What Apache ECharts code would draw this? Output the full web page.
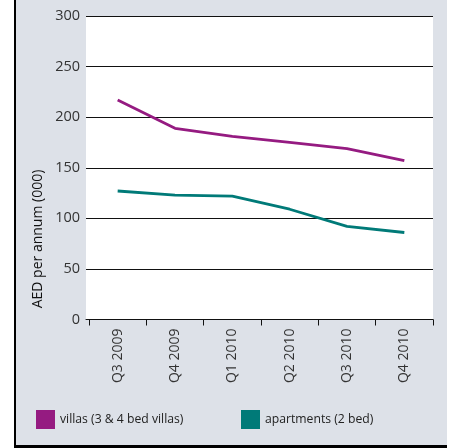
<!DOCTYPE html>
<html>
<head>
<meta charset="utf-8">
<script src="https://cdn.jsdelivr.net/npm/echarts@6/dist/echarts.min.js"></script>
<style>
  html, body { margin: 0; padding: 0; background: #ffffff; }
  #panel {
    position: absolute; left: 14px; top: 0; width: 433px; height: 448px;
    box-sizing: border-box; background: #dde1e8;
    border-left: 2px solid #000; border-bottom: 3px solid #000;
  }
  #chart { position: absolute; left: 0; top: 0; width: 451px; height: 448px; }
</style>
</head>
<body>
<div id="panel"></div>
<div id="chart"></div>
<script>
// Quarterly rents, AED per annum (thousands)
const quarters = ['Q3 2009', 'Q4 2009', 'Q1 2010', 'Q2 2010', 'Q3 2010', 'Q4 2010'];
const villas = [217, 189, 181, 175, 169, 157];
const apartments = [127, 123, 122, 109, 92, 86];
const villasName = 'villas (3 & 4 bed villas)';
const apartmentsName = 'apartments (2 bed)';
const yTicks = { min: 0, max: 300, interval: 50 };
const axisTitle = 'AED per annum (000)';

const FONT = 'Open Sans';
const PURPLE = '#951b81';
const TEAL = '#007a78';

const chart = echarts.init(document.getElementById('chart'), null, { renderer: 'canvas' });

chart.setOption({
  backgroundColor: 'transparent',
  animation: false,
  textStyle: { fontFamily: FONT },
  grid: [
    // data grid: category bands and the lines
    { left: 89, right: 18, top: 16, bottom: 128.5 },
    // frame grid: white plot area, gridlines, value labels, base line
    { left: 86, right: 18, top: 16, bottom: 128.5, show: true, backgroundColor: '#ffffff', borderWidth: 0, z: -1 }
  ],
  xAxis: [
    {
      gridIndex: 0, type: 'category', data: quarters, boundaryGap: true,
      axisLine: { show: false },
      axisTick: { show: true, length: 6, lineStyle: { color: '#111', width: 1 } },
      axisLabel: { rotate: 90, margin: 9, fontSize: 14, color: '#333', fontFamily: FONT }
    },
    {
      gridIndex: 1, type: 'value', min: 0, max: 1,
      axisLine: { show: true, onZero: false, lineStyle: { color: '#111', width: 1 } },
      axisTick: { show: false }, axisLabel: { show: false }, splitLine: { show: false }
    }
  ],
  yAxis: [
    {
      gridIndex: 0, type: 'value', min: yTicks.min, max: yTicks.max, interval: yTicks.interval,
      axisLine: { show: false }, axisTick: { show: false }, axisLabel: { show: false }, splitLine: { show: false }
    },
    {
      gridIndex: 1, type: 'value', min: yTicks.min, max: yTicks.max, interval: yTicks.interval,
      axisLine: { show: false }, axisTick: { show: false },
      axisLabel: { margin: 6, fontSize: 14.5, color: '#333', fontFamily: FONT },
      splitLine: { show: true, lineStyle: { color: '#111', width: 1 } }
    }
  ],
  legend: [
    {
      left: 31, top: 405, itemWidth: 19, itemHeight: 19, itemGap: 0, icon: 'rect',
      data: [villasName],
      textStyle: { fontSize: 12.2, color: '#222', fontFamily: FONT }
    },
    {
      left: 236, top: 405, itemWidth: 19, itemHeight: 19, itemGap: 0, icon: 'rect',
      data: [apartmentsName],
      textStyle: { fontSize: 12.2, color: '#222', fontFamily: FONT }
    }
  ],
  graphic: [
    {
      type: 'text', x: 38, y: 239, rotation: Math.PI / 2,
      style: {
        text: axisTitle, fill: '#111', font: '14px "' + FONT + '"',
        align: 'center', verticalAlign: 'middle'
      }
    }
  ],
  series: [
    {
      name: villasName, type: 'line', xAxisIndex: 0, yAxisIndex: 0, data: villas,
      showSymbol: false, symbol: 'none', color: PURPLE,
      lineStyle: { color: PURPLE, width: 2.8 }
    },
    {
      name: apartmentsName, type: 'line', xAxisIndex: 0, yAxisIndex: 0, data: apartments,
      showSymbol: false, symbol: 'none', color: TEAL,
      lineStyle: { color: TEAL, width: 2.8 }
    }
  ]
});
</script>
</body>
</html>
